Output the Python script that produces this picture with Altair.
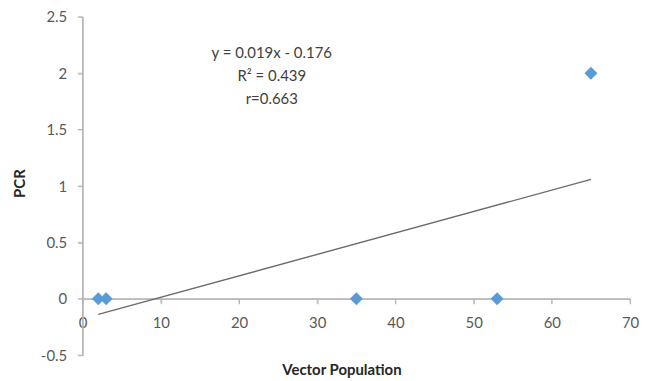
import altair as alt
import pandas as pd

# Scatter data
vector_population = [2, 3, 35, 53, 65]
pcr = [0, 0, 0, 0, 2]

# Linear trendline endpoints (y = 0.019x - 0.176)
trend_x = [2, 65]
trend_y = [-0.138, 1.059]

# Axis ticks
x_ticks = [0, 10, 20, 30, 40, 50, 60, 70]
y_ticks = [-0.5, 0, 0.5, 1, 1.5, 2, 2.5]

annotation_lines = ["y = 0.019x - 0.176", "R\u00b2 = 0.439", "r=0.663"]
annotation_px_y = [36, 59, 83]

FONT = "Lato"
AXIS_GRAY = "#b4b4b4"

pts = pd.DataFrame({"x": vector_population, "y": pcr})
trend = pd.DataFrame({"x": trend_x, "y": trend_y})
# axis lines (Excel style: x axis crosses at y = 0)
axes_df = pd.DataFrame({
    "x": [0, 0, x_ticks[0], x_ticks[-1]],
    "y": [y_ticks[0], y_ticks[-1], 0, 0],
    "g": ["y", "y", "x", "x"],
})
xt = pd.DataFrame({"v": x_ticks, "zero": [0] * len(x_ticks)})
yt = pd.DataFrame({"v": y_ticks, "zero": [0] * len(y_ticks)})

xscale = alt.Scale(domain=[x_ticks[0], x_ticks[-1]], nice=False, zero=False)
yscale = alt.Scale(domain=[y_ticks[0], y_ticks[-1]], nice=False, zero=False)

H = 340
x_axis = alt.Axis(
    values=x_ticks,
    offset=-H * 0.5 / 3,
    domainColor=AXIS_GRAY,
    tickColor=AXIS_GRAY,
    tickSize=5,
    labelFlush=False,
    labelPadding=12,
    labelFontSize=15,
    labelColor="#595959",
    labelFont=FONT,
    title="Vector Population",
    titleFont=FONT,
    titleFontSize=15,
    titleFontWeight="bold",
    titleColor="#262626",
    titleX=260,
    titleY=71,
    titleBaseline="middle",
)
y_axis = alt.Axis(
    values=y_ticks,
    labelExpr="'' + datum.value",
    domainColor=AXIS_GRAY,
    tickColor=AXIS_GRAY,
    tickSize=5,
    labelFlush=False,
    labelPadding=11,
    labelFontSize=15,
    labelColor="#595959",
    labelFont=FONT,
    title="PCR",
    titleFont=FONT,
    titleFontSize=15,
    titleFontWeight="bold",
    titleColor="#262626",
    titleX=-63,
    titleY=167,
    titleAngle=270,
    titleBaseline="middle",
)

axis_lines = alt.Chart(axes_df).mark_line(color=AXIS_GRAY, strokeWidth=1.2).encode(
    x=alt.X("x:Q", scale=xscale, axis=x_axis),
    y=alt.Y("y:Q", scale=yscale, axis=y_axis),
    detail="g:N",
)
x_tick_marks = alt.Chart(xt).mark_tick(
    orient="vertical", size=5, thickness=1.2, yOffset=2.5, color=AXIS_GRAY
).encode(x=alt.X("v:Q", scale=xscale), y=alt.Y("zero:Q", scale=yscale))
y_tick_marks = alt.Chart(yt).mark_tick(
    orient="horizontal", size=5, thickness=1.2, xOffset=-2.5, color=AXIS_GRAY
).encode(y=alt.Y("v:Q", scale=yscale), x=alt.X("zero:Q", scale=xscale))

line = alt.Chart(trend).mark_line(color="#6b6b6b", strokeWidth=1.4).encode(
    x=alt.X("x:Q", scale=xscale),
    y=alt.Y("y:Q", scale=yscale),
)

points = alt.Chart(pts).mark_point(
    shape="diamond", filled=True, size=170, color="#5b9bd5", opacity=1
).encode(
    x=alt.X("x:Q", scale=xscale),
    y=alt.Y("y:Q", scale=yscale),
)

texts = [
    alt.Chart(pts).transform_filter("datum.x == 2").mark_text(
        text=t, font=FONT, fontSize=15, color="#404040", align="center", baseline="middle"
    ).encode(x=alt.value(190), y=alt.value(py))
    for t, py in zip(annotation_lines, annotation_px_y)
]

chart = (
    alt.layer(axis_lines, x_tick_marks, y_tick_marks, line, points, *texts)
    .properties(
        width=550,
        height=H,
        autosize="none",
        padding={"left": 75, "top": 8, "right": 14, "bottom": 23},
    )
    .configure_axis(grid=False)
    .configure_view(stroke=None)
)

chart.save("out.html", embed_options={"renderer": "svg", "actions": False})
